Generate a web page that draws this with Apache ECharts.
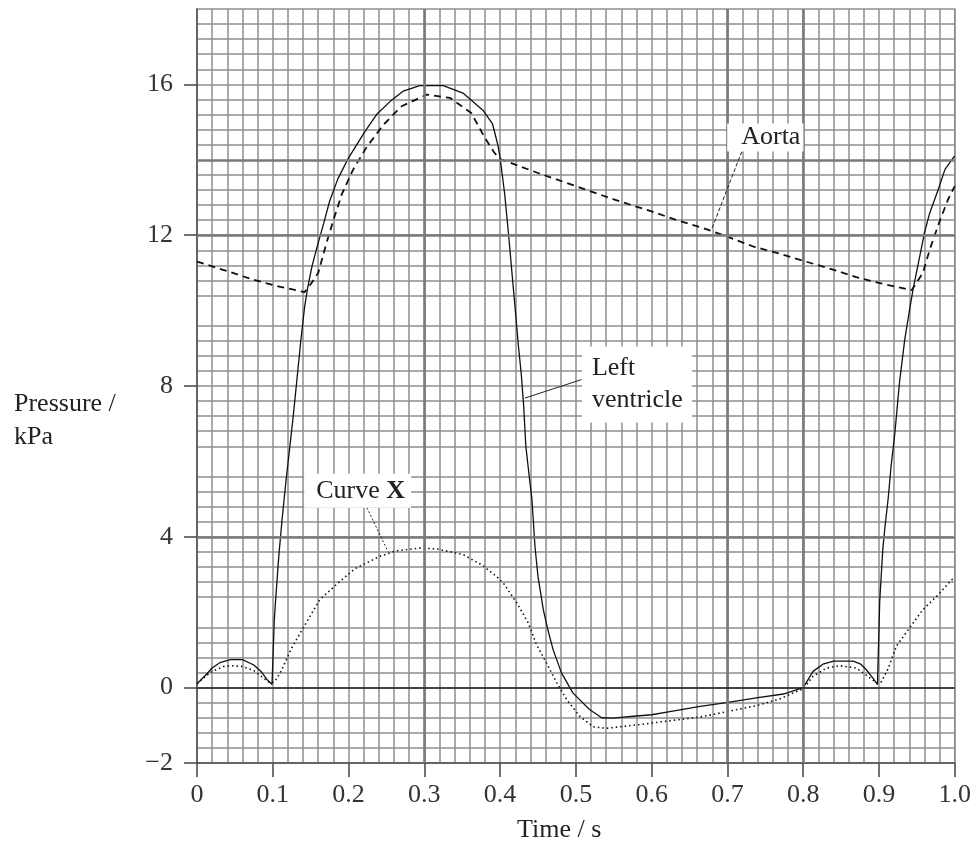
<!DOCTYPE html>
<html>
<head>
<meta charset="utf-8">
<script src="https://cdn.jsdelivr.net/npm/echarts@6/dist/echarts.min.js"></script>
<style>
  html, body { margin: 0; padding: 0; background: #fff; }
  #chart { width: 974px; height: 847px; }
</style>
</head>
<body>
<div id="chart"></div>
<script>
// [time (s), pressure (kPa)]
const leftVentricle = [
  [0, 0.1], [0.01, 0.3], [0.02, 0.52], [0.03, 0.66], [0.044, 0.74], [0.06, 0.74], [0.075, 0.6],
  [0.085, 0.42], [0.093, 0.2], [0.099, 0.08], [0.102, 1.8], [0.104, 2.4], [0.108, 3.5],
  [0.112, 4.4], [0.117, 5.4], [0.122, 6.3], [0.127, 7.2], [0.132, 8.2], [0.137, 9.2],
  [0.142, 10.1], [0.146, 10.6], [0.152, 11.2], [0.16, 11.8], [0.167, 12.3], [0.175, 12.9],
  [0.186, 13.5], [0.2, 14.05], [0.222, 14.76], [0.237, 15.2], [0.255, 15.55], [0.272, 15.82],
  [0.294, 15.97], [0.325, 15.97], [0.351, 15.77], [0.378, 15.3], [0.39, 14.95], [0.397, 14.4],
  [0.4, 14.05], [0.406, 13.1], [0.411, 12.06], [0.417, 10.7], [0.421, 9.8], [0.424, 9.1],
  [0.428, 8.3], [0.431, 7.5], [0.434, 6.4], [0.439, 5.5], [0.442, 5.0], [0.446, 3.75],
  [0.45, 2.95], [0.457, 2.07], [0.463, 1.54], [0.47, 1.0], [0.481, 0.39], [0.496, -0.14],
  [0.518, -0.58], [0.534, -0.8], [0.549, -0.81], [0.576, -0.76], [0.6, -0.72], [0.62, -0.65],
  [0.664, -0.5], [0.701, -0.39], [0.738, -0.27], [0.774, -0.17], [0.8, 0], [0.806, 0.2],
  [0.813, 0.43], [0.826, 0.62], [0.84, 0.7], [0.866, 0.7], [0.876, 0.62], [0.883, 0.48],
  [0.892, 0.25], [0.898, 0.08], [0.901, 2.3], [0.905, 3.66], [0.908, 4.28], [0.912, 4.99],
  [0.916, 5.87], [0.921, 6.76], [0.925, 7.64], [0.927, 8.08], [0.934, 9.23], [0.941, 10.1],
  [0.945, 10.56], [0.952, 11.26], [0.96, 12.06], [0.967, 12.59], [0.978, 13.2], [0.987, 13.74],
  [0.996, 14.0], [1.0, 14.1]
]

const aorta = [
  [0, 11.3], [0.041, 11.04], [0.074, 10.82], [0.11, 10.63], [0.142, 10.49], [0.15, 10.7],
  [0.16, 11.0], [0.171, 11.8], [0.18, 12.4], [0.191, 13.08], [0.206, 13.74], [0.224, 14.34],
  [0.246, 14.93], [0.27, 15.42], [0.303, 15.73], [0.334, 15.64], [0.362, 15.24], [0.38, 14.58],
  [0.392, 14.2], [0.4, 14.02], [0.45, 13.65], [0.5, 13.3], [0.55, 12.95], [0.6, 12.63],
  [0.633, 12.4], [0.668, 12.19], [0.699, 11.97], [0.734, 11.7], [0.769, 11.51], [0.802, 11.31],
  [0.837, 11.1], [0.87, 10.89], [0.903, 10.72], [0.943, 10.54], [0.958, 11.0], [0.967, 11.62],
  [0.98, 12.37], [0.991, 12.94], [1.0, 13.3]
]

const curveX = [
  [0, 0.1], [0.01, 0.28], [0.02, 0.43], [0.035, 0.56], [0.045, 0.58], [0.06, 0.56], [0.075, 0.45],
  [0.088, 0.25], [0.097, 0.12], [0.103, 0.17], [0.11, 0.4], [0.118, 0.74], [0.125, 1.05],
  [0.14, 1.58], [0.162, 2.33], [0.182, 2.7], [0.208, 3.15], [0.241, 3.48], [0.263, 3.63],
  [0.294, 3.7], [0.316, 3.68], [0.351, 3.53], [0.377, 3.24], [0.395, 2.95], [0.404, 2.78],
  [0.422, 2.25], [0.437, 1.72], [0.448, 1.14], [0.461, 0.66], [0.475, 0.12], [0.488, -0.32],
  [0.505, -0.76], [0.523, -1.04], [0.54, -1.08], [0.558, -1.04], [0.584, -0.98], [0.62, -0.89],
  [0.664, -0.78], [0.701, -0.63], [0.738, -0.48], [0.769, -0.3], [0.8, -0.03], [0.813, 0.3],
  [0.831, 0.52], [0.848, 0.58], [0.87, 0.52], [0.888, 0.26], [0.897, 0.12], [0.903, 0.15],
  [0.912, 0.5], [0.923, 1.1], [0.941, 1.6], [0.958, 2.07], [0.976, 2.42], [0.996, 2.86], [1.0, 2.9]
]

const pressureTicks = [-2, 0, 4, 8, 12, 16]
const heavyTimeLines = [0.3, 0.7, 0.8]
const heavyPressureLines = [4, 12, 14]

const font = "Liberation Serif"
const gridGrey = "#8f8f8f"

const chart = echarts.init(document.getElementById("chart"))

const leader = (from, to, type) => ({
  silent: true,
  symbol: ["none", "none"],
  animation: false,
  label: { show: false },
  lineStyle: { color: "#222", width: 1, type: type },
  data: [[{ coord: from }, { coord: to }]],
})

const note = (coord, text, extra) => ({
  silent: true,
  symbol: "circle",
  symbolSize: 1,
  itemStyle: { color: "rgba(0,0,0,0)" },
  animation: false,
  data: [
    {
      coord: coord,
      label: Object.assign(
        {
          show: true,
          position: "inside",
          formatter: text,
          fontFamily: font,
          fontSize: 26,
          color: "#222",
          backgroundColor: "#fff",
        },
        extra
      ),
    },
  ],
})

const options = {
  animation: false,
  backgroundColor: "#fff",
  grid: {
    left: 197,
    right: 19,
    top: 9,
    bottom: 84,
    show: true,
    borderColor: gridGrey,
    borderWidth: 1.5,
  },
  xAxis: {
    type: "value",
    min: 0,
    max: 1,
    interval: 0.1,
    axisLine: { show: true, onZero: false, lineStyle: { color: "#555", width: 1.5 } },
    axisTick: { show: true, length: 14, lineStyle: { color: "#444", width: 1.5 } },
    axisLabel: {
      formatter: (v) => (v === 0 ? "0" : v.toFixed(1)),
      fontFamily: font,
      fontSize: 26,
      color: "#333",
      margin: 19,
    },
    splitLine: { show: true, lineStyle: { color: gridGrey, width: 1.5 } },
    minorTick: { show: false, splitNumber: 5 },
    minorSplitLine: { show: true, lineStyle: { color: gridGrey, width: 1.5 } },
  },
  yAxis: {
    type: "value",
    min: -2,
    max: 18,
    interval: 2,
    axisLine: { show: true, onZero: false, lineStyle: { color: "#555", width: 1.5 } },
    axisTick: { show: true, length: 13, customValues: pressureTicks, lineStyle: { color: "#444", width: 1.5 } },
    axisLabel: {
      customValues: pressureTicks,
      formatter: (v) => (v < 0 ? "\u2212" + Math.abs(v) : String(v)),
      fontFamily: font,
      fontSize: 26,
      color: "#333",
      margin: 24,
    },
    splitLine: { show: true, lineStyle: { color: gridGrey, width: 1.5 } },
    minorTick: { show: false, splitNumber: 5 },
    minorSplitLine: { show: true, lineStyle: { color: gridGrey, width: 1.5 } },
  },
  graphic: [
    {
      type: "text",
      left: 14,
      top: 388,
      style: { text: "Pressure /\nkPa", font: "26px " + font, fill: "#222", lineHeight: 33 },
    },
    {
      type: "text",
      left: 517,
      top: 817,
      style: { text: "Time / s", font: "26px " + font, fill: "#222" },
    },
  ],
  series: [
    {
      // heavier rulings of the graph paper
      name: "rulings",
      type: "line",
      data: [],
      z: 1,
      markLine: {
        silent: true,
        symbol: ["none", "none"],
        animation: false,
        label: { show: false },
        lineStyle: { color: "#7a7a7a", width: 2.6, type: "solid" },
        data: [
          ...heavyTimeLines.map((t) => ({ xAxis: t })),
          ...heavyPressureLines.map((p) => ({ yAxis: p })),
          { yAxis: 0, lineStyle: { color: "#222", width: 1.6 } },
        ],
      },
    },
    {
      name: "Left ventricle",
      type: "line",
      data: leftVentricle,
      showSymbol: false,
      lineStyle: { color: "#111", width: 1.3 },
      markLine: leader([0.5075, 8.17], [0.4327, 7.68], "solid"),
      markPoint: note([0.508, 8.04], "Left\nventricle", {
        align: "left",
        lineHeight: 32,
        padding: [6, 9, 6, 10],
      }),
    },
    {
      name: "Aorta",
      type: "line",
      data: aorta,
      showSymbol: false,
      lineStyle: { color: "#111", width: 1.8, type: [7, 5] },
      markLine: leader([0.719, 14.22], [0.679, 12.15], [4, 2]),
      markPoint: note([0.75, 14.59], "Aorta", { padding: [1, 3, 1, 14] }),
    },
    {
      name: "Curve X",
      type: "line",
      data: curveX,
      showSymbol: false,
      lineStyle: { color: "#111", width: 1.6, type: [1.5, 3] },
      markLine: leader([0.2243, 4.77], [0.252, 3.61], [2, 2]),
      markPoint: note([0.212, 5.22], "Curve {b|X}", {
        padding: [4, 6, 4, 12],
        rich: { b: { fontFamily: font, fontSize: 26, fontWeight: "bold", color: "#222" } },
      }),
    },
  ],
}

chart.setOption(options)
</script>
</body>
</html>
